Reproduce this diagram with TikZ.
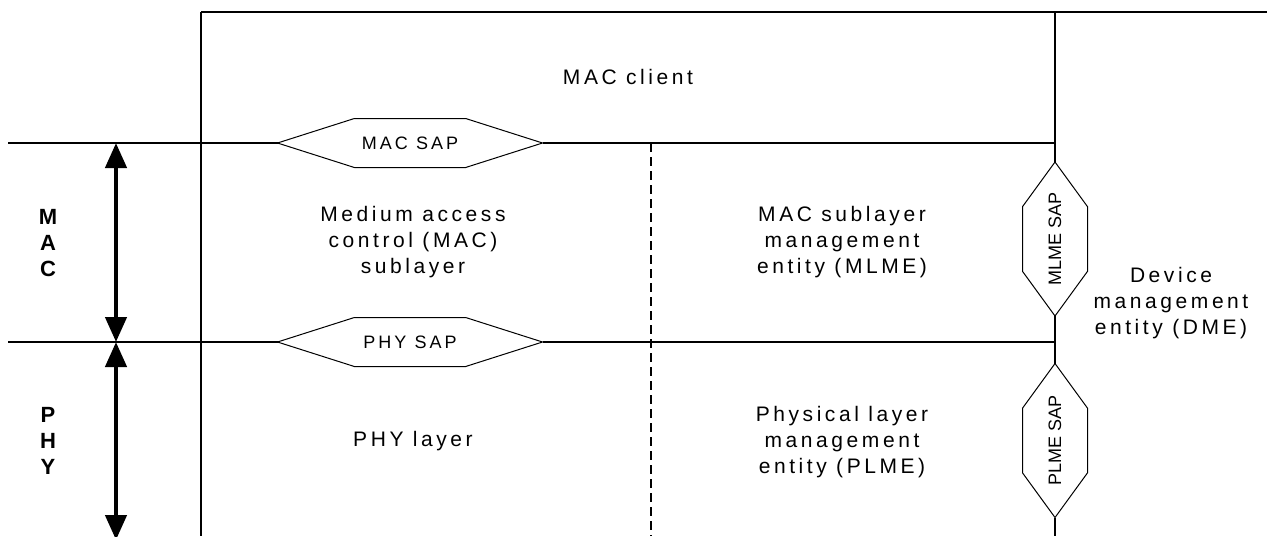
\documentclass[tikz,border=0pt]{standalone}
\usepackage{fontspec}
\setsansfont{Liberation Sans}
\newfontfamily\spaced[LetterSpace=17]{Liberation Sans}
\usepackage{tikz}
\usetikzlibrary{calc,arrows.meta}

\begin{document}
\begin{tikzpicture}
		[   x=0.5pt,y=-0.5pt,
		    lbl/.style={align=center,font=\spaced\fontsize{10.5}{13.2}\selectfont},
		    side/.style={align=center,font=\sffamily\bfseries\fontsize{11}{13}\selectfont},
		    sap/.style={outer sep=0pt,inner sep=0pt,minimum width=#1},
		    wall/.style={draw=black,line width=0.9pt},
		    rule/.style={draw=black,line width=0.6pt},
		]
		\tikzset{layer arrow/.style={draw,line width=2.2pt,{Triangle[width=10.5pt,length=12.5pt]}-{Triangle[width=10.5pt,length=12.5pt]}}}
		\useasboundingbox (0,0) rectangle (1267,536);
		\clip (0,0) rectangle (1267,536);

		\coordinate (tl) at (201,12);
		\coordinate (tr) at (1267,12);
		\coordinate (bl) at (201,536);
		\coordinate (dme-t) at (1055,12);
		\coordinate (dme-b) at (1055,536);
		\coordinate (mac-j) at (1055,143);
		\coordinate (phy-j) at (1055,342);
		\coordinate (mac-l) at (8,143);
		\coordinate (phy-l) at (8,342);
		\coordinate (split-t) at (651,143);
		\coordinate (split-b) at (651,536);
		\coordinate (a-1) at (116,143);
		\coordinate (a-2) at (116,342);
		\coordinate (a-3) at (116,540);

		\node[lbl] (client) at (628,77) {MAC client};
		\node[lbl] (macsub) at (413,242) {Medium access\\control (MAC)\\sublayer};
		\node[lbl] (mlme) at (842,242) {MAC sublayer\\management\\entity (MLME)};
		\node[lbl] (phylayer) at (413,441) {PHY layer};
		\node[lbl] (plme) at (842,442) {Physical layer\\management\\entity (PLME)};
		\node[lbl] (dme) at (1171,303) {Device\\management\\entity (DME)};

		\node[side] (mac-s) at (48,243) {M\\A\\C};
		\node[side] (phy-s) at (48,441) {P\\H\\Y};

		\node[sap=132.5pt,minimum height=24.5pt,lbl,font=\spaced\fontsize{9}{10}\selectfont] (macsap) at (410,143) {MAC SAP};
		\node[sap=132.5pt,minimum height=24.5pt,lbl,font=\spaced\fontsize{9}{10}\selectfont] (physap) at (410,342) {PHY SAP};
		\node[sap=77pt,minimum height=32.5pt,rotate=90,font=\sffamily\fontsize{9}{10}\selectfont] (mlmesap) at (1055,239) {MLME SAP};
		\node[sap=77pt,minimum height=32.5pt,rotate=90,font=\sffamily\fontsize{9}{10}\selectfont] (plmesap) at (1055,440.5) {PLME SAP};

		% hexagons
		\foreach \s in {macsap,physap,mlmesap,plmesap}
			{
				\draw[line width=0.5pt] (\s.west) -- ($(\s.north west)!.29!(\s.north east)$) -- ($(\s.north west)!.71!(\s.north east)$)
					-- (\s.east) -- ($(\s.south west)!.71!(\s.south east)$) -- ($(\s.south west)!.29!(\s.south east)$) -- cycle;
			}

		\path[wall] (tl) -- (bl);
		\path[rule] (tl) -- (tr);
		\path[wall] (dme-t) -- (mlmesap.east);
		\path[wall] (mlmesap.west) -- (plmesap.east);
		\path[wall] (plmesap.west) -- (dme-b);

		\path[rule] (mac-l) -- (macsap.west);
		\path[rule] (macsap.east) -- (mac-j);
		\path[rule] (phy-l) -- (physap.west);
		\path[rule] (physap.east) -- (phy-j);

		\path[draw,line width=1.2pt,dash pattern=on 4.5pt off 2.5pt] (split-t) -- (split-b);

		\path[layer arrow] (a-1) -- (a-2);
		\path[layer arrow] (a-2) -- (a-3);

		\end{tikzpicture}
\end{document}
